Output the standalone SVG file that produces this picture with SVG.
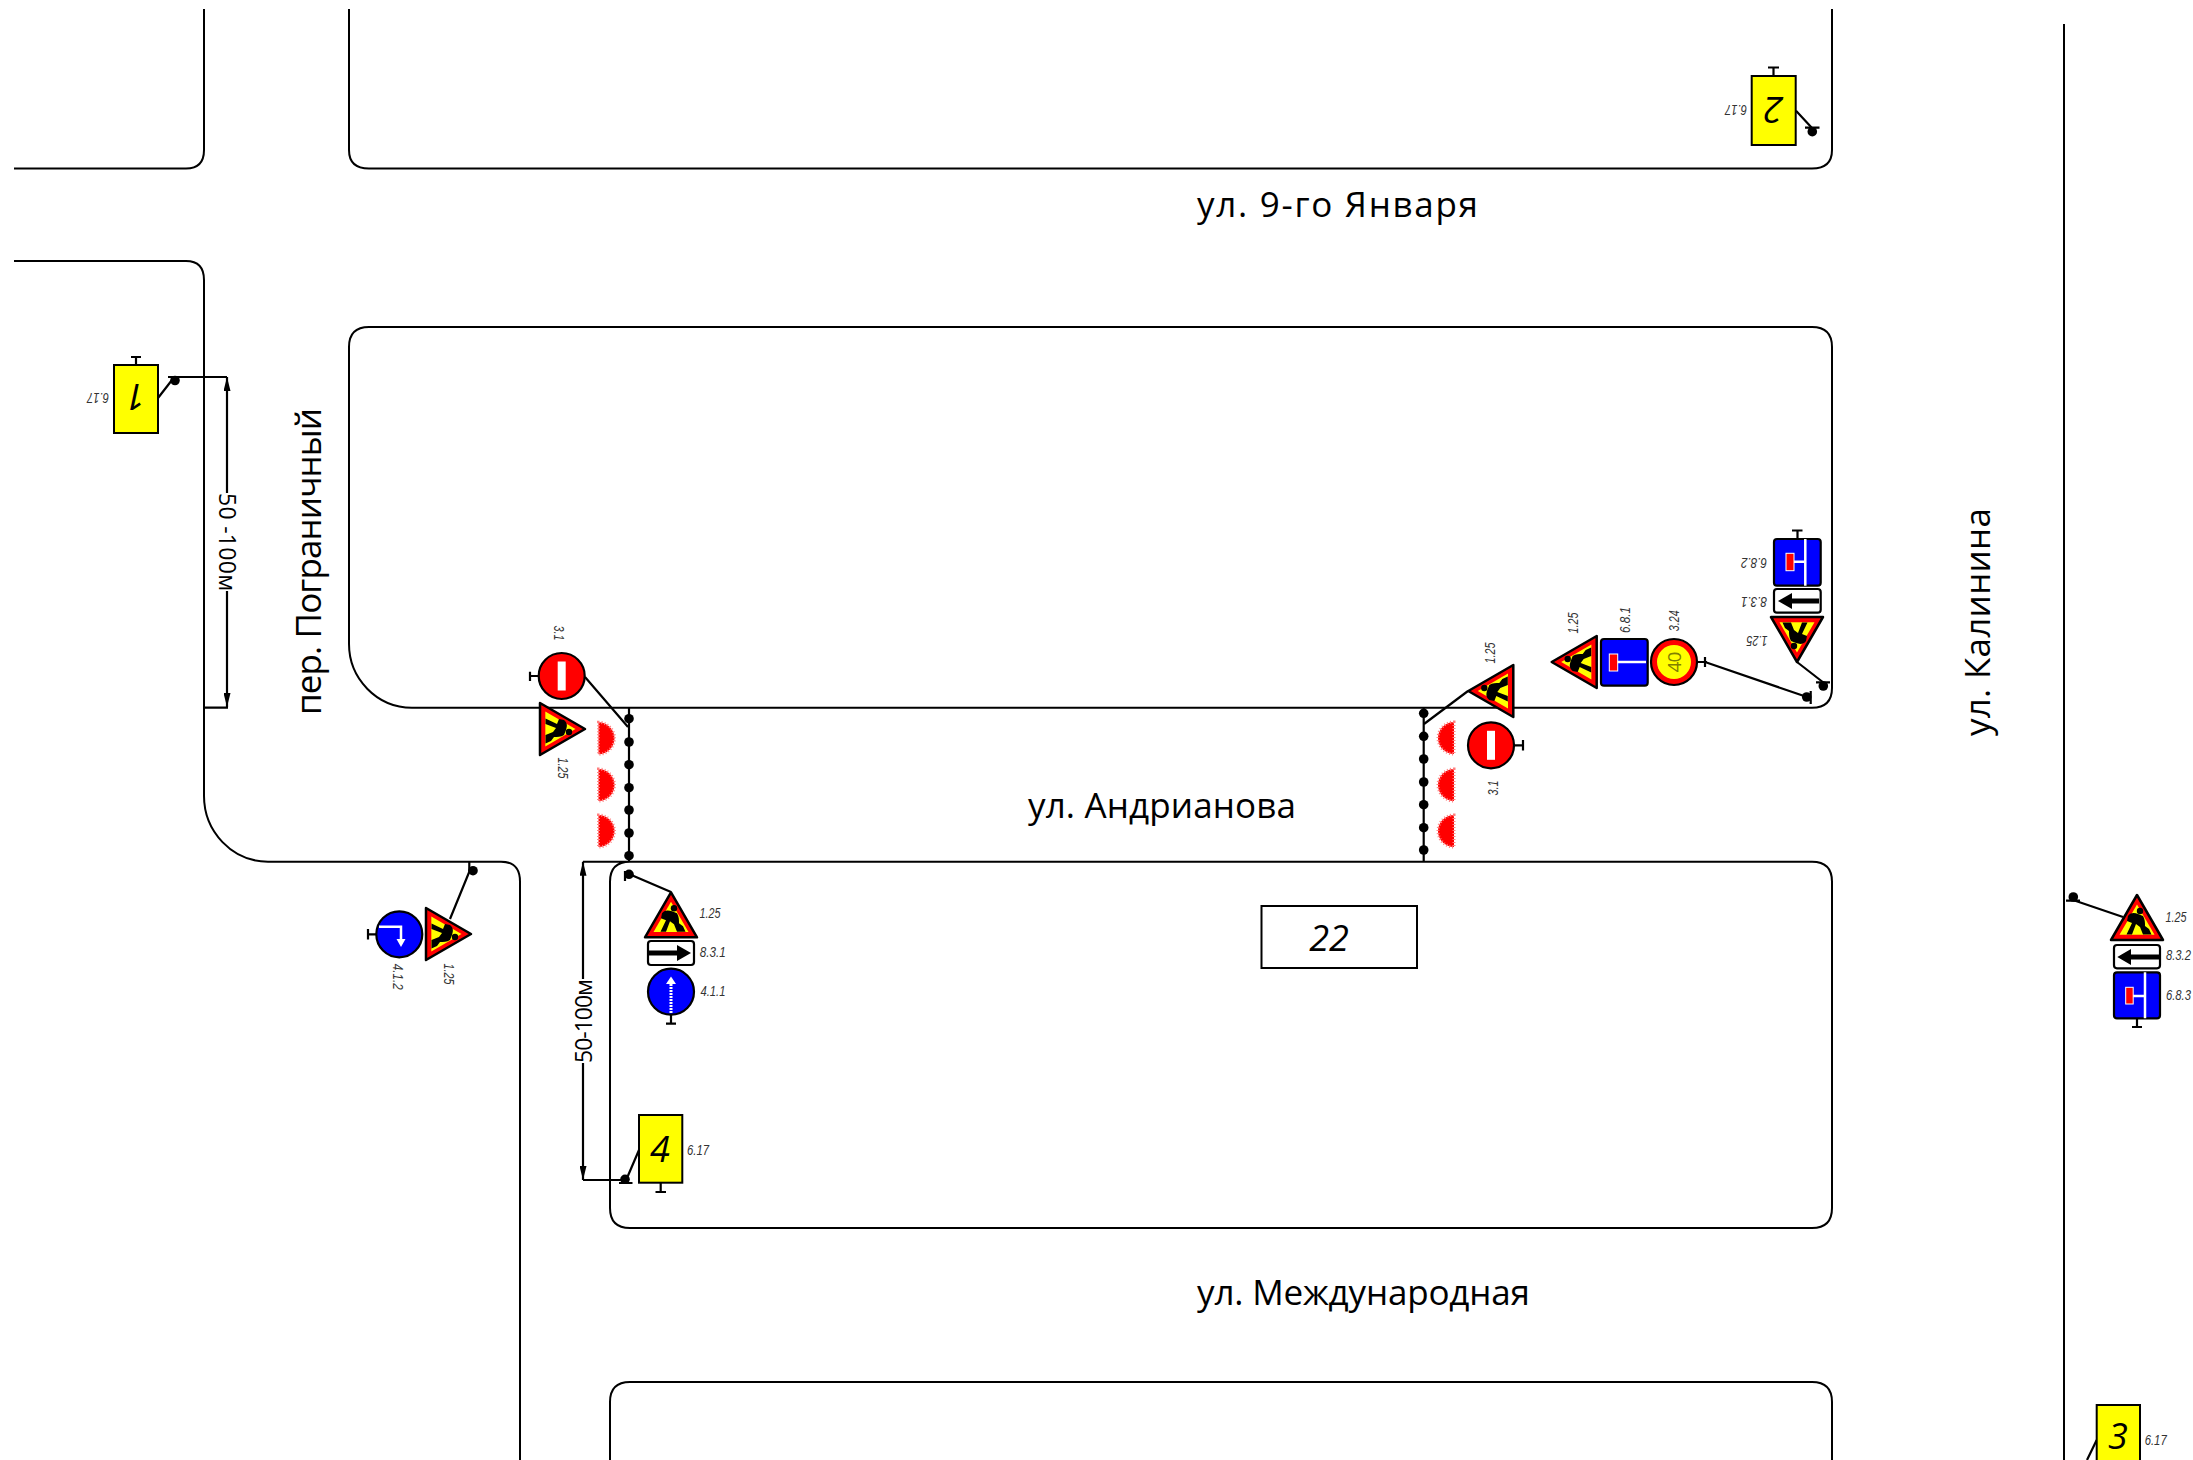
<svg xmlns="http://www.w3.org/2000/svg" width="2193" height="1460" viewBox="0 0 2193 1460">
<style>
.road{fill:none;stroke:#000;stroke-width:2}
.ln{fill:none;stroke:#000;stroke-width:2.2}
.bar{stroke:#000;stroke-width:2.2;fill:none}
.st{font-family:"Open Sans","Liberation Sans",sans-serif;font-size:35px;font-weight:400;fill:#000}
.dm{font-family:"Open Sans","Liberation Sans",sans-serif;font-size:23px;font-weight:400;fill:#000}
.lb{font-family:"Liberation Sans",Arial,sans-serif;font-style:italic;font-size:14px;fill:#333;text-anchor:middle}
.dg{font-family:"Open Sans","Liberation Sans",Arial,sans-serif;font-style:italic;font-size:36px;fill:#000;text-anchor:middle}
.yl{fill:#ff0;stroke:#000;stroke-width:2}
.bl{fill:#00f;stroke:#000;stroke-width:2.2}
.wt{fill:#fff;stroke:#000;stroke-width:2.2}
.rd{fill:#f00;stroke:#000;stroke-width:2.2}
.semi{fill:#f00;stroke:#ff8080;stroke-width:3;stroke-dasharray:1 2}
</style>
<defs>
<marker id="ah" viewBox="0 0 14 7" refX="14" refY="3.500" markerWidth="14" markerHeight="7" orient="auto" markerUnits="userSpaceOnUse"><path d="M0 0L14 3.500L0 7Z" fill="#000"/></marker>
<g id="work">
<path d="M0-25L26 20H-26Z" fill="#f00" stroke="#000" stroke-width="2.500" stroke-linejoin="round"/>
<path d="M0-15.500L17.500 14.700H-17.500Z" fill="#ff0"/>
<circle cx="3" cy="-9" r="3.200" fill="#000"/>
<path d="M-9-4C-6-8-2-7 1-6L6-4C8-1 8 3 8 6L12 9L14.500 14.500H6L3 7L-1 4L-5 14.500H-10.500L-5 3L-10 1Z" fill="#000"/>
</g>
<g id="noentry"><circle r="23" class="rd"/><rect x="-4" y="-14.500" width="8" height="29" fill="#fff"/></g>
<path id="semiR" class="semi" d="M0-16A16 16 0 0 1 0 16Z"/>
<path id="semiL" class="semi" d="M0-16A16 16 0 0 0 0 16Z"/>
<circle id="dot" r="4.800" fill="#000"/>
</defs>
<rect width="2193" height="1460" fill="#fff"/>
<g id="roads">
<path class="road" d="M204 9V150Q204 168.500 186 168.500H14"/>
<path class="road" d="M349 9V150Q349 168.500 369 168.500H1812Q1832 168.500 1832 150V9"/>
<path class="road" d="M14 261H186Q204 261 204 280V795A64 66 0 0 0 268 861.700H501Q520 861.700 520 881.700V1460"/>
<path class="road" d="M369 327H1812Q1832 327 1832 347V688Q1832 707.700 1812 707.700H412A63 64 0 0 1 349 643V347Q349 327 369 327Z"/>
<path class="road" d="M583 861.700H1812Q1832 861.700 1832 881.700V1208Q1832 1228 1812 1228H630Q610 1228 610 1208V881.700Q610 861.700 630 861.700"/>
<path class="road" d="M610 1460V1402Q610 1382 630 1382H1812Q1832 1382 1832 1402V1460"/>
<path class="road" d="M2064 24V1460"/>
</g>
<g id="streets">
<text class="st" x="1197" y="217" textLength="281" lengthAdjust="spacing">ул. 9-го Января</text>
<text class="st" x="1028" y="818" textLength="268" lengthAdjust="spacing">ул. Андрианова</text>
<text class="st" x="1197" y="1305" textLength="333" lengthAdjust="spacing">ул. Международная</text>
<text class="st" transform="translate(1990 736) rotate(-90)" textLength="228" lengthAdjust="spacing">ул. Калинина</text>
<text class="st" transform="translate(321 715) rotate(-90)" textLength="307" lengthAdjust="spacing">пер. Пограничный</text>
<rect id="house-box" x="1261.500" y="906" width="155.500" height="62" fill="none" stroke="#000" stroke-width="2"/>
<text class="dg" x="1329" y="951">22</text>
</g>
<g id="connectors">
<path class="ln" d="M168 377H227M204 707.700H228"/>
<path class="ln" marker-end="url(#ah)" d="M227 493V377"/>
<path class="ln" marker-end="url(#ah)" d="M227 591V707"/>
<path class="ln" marker-end="url(#ah)" d="M583 979V861.700"/>
<path class="ln" marker-end="url(#ah)" d="M583 1063V1180"/>
<path class="ln" d="M583 1180H625"/>
<path class="ln" d="M629 707.700V861.700"/>
<path class="ln" d="M1423.700 707.700V861.700"/>
<path class="ln" d="M158 398L172 380M1796 110.700L1812 128M585 677L628 727M450 919L469.300 871.700V861.700M629 874L671 892M639 1150L627 1178M1468 691L1424 724M1705 662L1807 697M1797 662L1824 683M2123 917L2073 900M2096.700 1440L2087 1460"/>
<path class="ln" d="M625 871V881M1810.700 691V704M1816 682.300H1830M2066 900.700H2080M619 1183H632.500M1805 127.700H1819.500"/>
<g><use href="#dot" x="175" y="380.500"/><use href="#dot" x="1812.300" y="131.700"/><use href="#dot" x="473" y="870.700"/><use href="#dot" x="629" y="874.300"/><use href="#dot" x="625" y="1179.300"/><use href="#dot" x="1806.700" y="697"/><use href="#dot" x="1823.300" y="686"/><use href="#dot" x="2073.300" y="897"/>
<use href="#dot" x="629" y="718.700"/><use href="#dot" x="629" y="742"/><use href="#dot" x="629" y="764.700"/><use href="#dot" x="629" y="787.700"/><use href="#dot" x="629" y="810"/><use href="#dot" x="629" y="833"/><use href="#dot" x="629" y="855.700"/>
<use href="#dot" x="1423.700" y="713.300"/><use href="#dot" x="1423.700" y="736.300"/><use href="#dot" x="1423.700" y="759"/><use href="#dot" x="1423.700" y="782"/><use href="#dot" x="1423.700" y="804.700"/><use href="#dot" x="1423.700" y="827.700"/><use href="#dot" x="1423.700" y="850"/></g>
</g>
<text id="dim1" class="dm" transform="translate(219 493) rotate(90)" textLength="98" lengthAdjust="spacing">50 -100м</text>
<text id="dim2" class="dm" transform="translate(592 1063) rotate(-90)" textLength="84" lengthAdjust="spacing">50-100м</text>
<g id="lens-left"><use href="#semiR" x="598.500" y="738.300"/><use href="#semiR" x="598.500" y="785"/><use href="#semiR" x="598.500" y="831"/></g>
<g id="lens-right"><use href="#semiL" x="1454" y="738"/><use href="#semiL" x="1454" y="785"/><use href="#semiL" x="1454" y="831"/></g>

<g id="sign-1-plate"><rect class="yl" x="114" y="365" width="44" height="68"/><path class="bar" d="M136 365V357M131 357H141"/><text class="dg" transform="translate(136 397) rotate(180)" y="13">1</text><text class="lb" transform="translate(98 398) rotate(180)" y="5" textLength="22" lengthAdjust="spacingAndGlyphs">6.17</text></g>
<g id="sign-2-plate"><rect class="yl" x="1751.700" y="76" width="44" height="69"/><path class="bar" d="M1773.500 76V67.500M1768 67.500H1779"/><text class="dg" transform="translate(1773.500 110) rotate(180)" y="13">2</text><text class="lb" transform="translate(1736 110) rotate(180)" y="5" textLength="22" lengthAdjust="spacingAndGlyphs">6.17</text></g>
<g id="sign-3-plate"><rect class="yl" x="2096.700" y="1405" width="43.300" height="68"/><text class="dg" x="2118" y="1449">3</text><text class="lb" x="2155.700" y="1444.500" textLength="22" lengthAdjust="spacingAndGlyphs">6.17</text></g>
<g id="sign-4-plate"><rect class="yl" x="639" y="1115" width="43.300" height="67.700"/><path class="bar" d="M660.700 1183V1192M655.500 1192H666"/><text class="dg" x="660" y="1162">4</text><text class="lb" x="698" y="1154.500" textLength="22" lengthAdjust="spacingAndGlyphs">6.17</text></g>

<g id="sign-a-125"><use href="#work" transform="translate(560 729) rotate(90)"/><text class="lb" transform="translate(562.700 768) rotate(90)" y="5" textLength="21" lengthAdjust="spacingAndGlyphs">1.25</text></g>
<g id="sign-a-31"><use href="#noentry" transform="translate(561.700 676)"/><path class="bar" d="M538.600 676H529M530 671.700V681"/><text class="lb" transform="translate(559 633) rotate(90)" y="5" textLength="15" lengthAdjust="spacingAndGlyphs">3.1</text></g>
<g id="sign-b-125"><use href="#work" transform="translate(446 934) rotate(90)"/><text class="lb" transform="translate(449 974) rotate(90)" y="5" textLength="21" lengthAdjust="spacingAndGlyphs">1.25</text></g>
<g id="sign-b-412"><circle class="bl" cx="399.300" cy="934.300" r="23"/><path d="M379 926.700H401V941" fill="none" stroke="#fff" stroke-width="2.500"/><path d="M396.500 939H405.500L401 947Z" fill="#fff"/><path class="bar" d="M376 934.300H368M368 929V939.500"/><text class="lb" transform="translate(398 976.700) rotate(90)" y="5" textLength="26" lengthAdjust="spacingAndGlyphs">4.1.2</text></g>
<g id="sign-c-125"><use href="#work" transform="translate(671 917.300)"/><text class="lb" x="710" y="918" textLength="21" lengthAdjust="spacingAndGlyphs">1.25</text></g>
<g id="sign-c-831"><rect class="wt" x="648" y="941" width="46" height="24" rx="3"/><path d="M649 950.500H677V945L691 953L677 961V955.500H649Z" fill="#000"/><text class="lb" x="712.700" y="957" textLength="26" lengthAdjust="spacingAndGlyphs">8.3.1</text></g>
<g id="sign-c-411"><circle class="bl" cx="671" cy="991.700" r="23"/><path d="M671 1013V984" stroke="#fff" stroke-width="3" stroke-dasharray="2 1" fill="none"/><path d="M671 976.500L676 984H666Z" fill="#fff"/><path class="bar" d="M671 1014.700V1023.700M666 1023.700H676"/><text class="lb" x="713" y="995.500" textLength="25" lengthAdjust="spacingAndGlyphs">4.1.1</text></g>
<g id="sign-d-125"><use href="#work" transform="translate(1493.300 691) rotate(-90)"/><text class="lb" transform="translate(1490 653) rotate(-90)" y="5" textLength="21" lengthAdjust="spacingAndGlyphs">1.25</text></g>
<g id="sign-d-31"><use href="#noentry" transform="translate(1491 745.300)"/><path class="bar" d="M1514 745.300H1523M1523 740V750.500"/><text class="lb" transform="translate(1492.700 788) rotate(-90)" y="5" textLength="15" lengthAdjust="spacingAndGlyphs">3.1</text></g>
<g id="sign-e-125"><use href="#work" transform="translate(1576.700 662) rotate(-90)"/><text class="lb" transform="translate(1573 623) rotate(-90)" y="5" textLength="21" lengthAdjust="spacingAndGlyphs">1.25</text></g>
<g id="sign-e-681"><rect class="bl" x="1601" y="639" width="46.700" height="46.700" rx="3"/><path d="M1617 662H1646" stroke="#fff" stroke-width="2.500"/><rect x="1609.300" y="654" width="8.400" height="17" fill="#f00" stroke="#fff"/><text class="lb" transform="translate(1625 620) rotate(-90)" y="5" textLength="26" lengthAdjust="spacingAndGlyphs">6.8.1</text></g>
<g id="sign-e-324"><circle class="rd" cx="1674" cy="662" r="23"/><circle cx="1674" cy="662" r="17" fill="#ff0"/><text transform="translate(1681 672.500) rotate(-90)" textLength="21" style="font-family:'Open Sans','Liberation Sans',sans-serif;font-size:19px;fill:#808000">40</text><path class="bar" d="M1697 662H1707M1705 657V667"/><text class="lb" transform="translate(1674 620.700) rotate(-90)" y="5" textLength="21" lengthAdjust="spacingAndGlyphs">3.24</text></g>
<g id="sign-f-125"><use href="#work" transform="translate(1797 637) rotate(180)"/><text class="lb" transform="translate(1757 641) rotate(180)" y="5" textLength="21" lengthAdjust="spacingAndGlyphs">1.25</text></g>
<g id="sign-f-831"><rect class="wt" x="1774" y="589" width="46.700" height="23.700" rx="3"/><path d="M1778 601L1792 593V598.500H1819V603.500H1792V609Z" fill="#000"/><text class="lb" transform="translate(1754 602) rotate(180)" y="5" textLength="26" lengthAdjust="spacingAndGlyphs">8.3.1</text></g>
<g id="sign-f-682"><rect class="bl" x="1774" y="539" width="46.700" height="46.700" rx="3"/><path d="M1805.300 539V585.700M1793 561.700H1805.300" stroke="#fff" stroke-width="2.500" fill="none"/><rect x="1786" y="553.300" width="8" height="17.400" fill="#f00" stroke="#fff"/><path class="bar" d="M1797.500 539V530.500M1792 530.500H1802.500"/><text class="lb" transform="translate(1754 563) rotate(180)" y="5" textLength="26" lengthAdjust="spacingAndGlyphs">6.8.2</text></g>
<g id="sign-g-125"><use href="#work" transform="translate(2137 920)"/><text class="lb" x="2176" y="922" textLength="21" lengthAdjust="spacingAndGlyphs">1.25</text></g>
<g id="sign-g-832"><rect class="wt" x="2114" y="945" width="46" height="23.300" rx="3"/><path d="M2117.300 957L2131 949V954.500H2159V959.500H2131V965Z" fill="#000"/><text class="lb" x="2178.500" y="960" textLength="25" lengthAdjust="spacingAndGlyphs">8.3.2</text></g>
<g id="sign-g-683"><rect class="bl" x="2114" y="972.300" width="46" height="46" rx="3"/><path d="M2145 972.300V1018.300M2133 996H2145" stroke="#fff" stroke-width="2.500" fill="none"/><rect x="2125.700" y="987.300" width="7.500" height="16.700" fill="#f00" stroke="#fff"/><path class="bar" d="M2137 1018.300V1027M2132 1027H2142"/><text class="lb" x="2178.500" y="1000" textLength="25" lengthAdjust="spacingAndGlyphs">6.8.3</text></g>
</svg>
